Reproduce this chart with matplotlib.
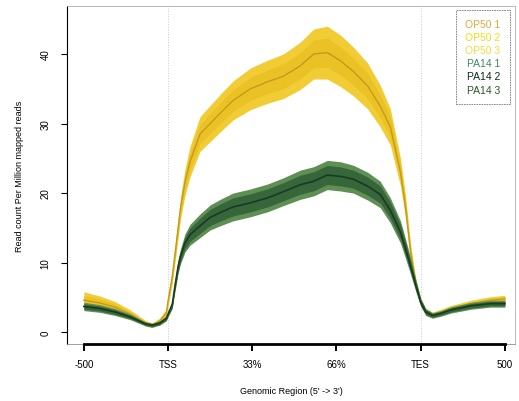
import numpy as np
import matplotlib.pyplot as plt

# positions along the metagene (0 = -500, 1 = TSS, 4 = TES, 5 = +500)
pos = [0.0, 0.19, 0.37, 0.55, 0.73, 0.81, 0.90, 0.98, 1.0, 1.05, 1.08, 1.12,
       1.15, 1.20, 1.26, 1.38, 1.50, 1.62, 1.77, 1.98, 2.18, 2.37, 2.57, 2.73,
       2.89, 3.05, 3.20, 3.37, 3.52, 3.64, 3.76, 3.82, 3.88, 3.94, 4.0, 4.06,
       4.14, 4.24, 4.36, 4.60, 4.83, 5.0]

op50_mean = [4.6, 4.2, 3.6, 2.6, 1.3, 1.0, 1.6, 2.8, 4.5, 8.0, 11.0, 15.0,
             18.0, 21.5, 24.5, 28.5, 30.0, 31.5, 33.3, 35.0, 36.0, 36.8, 38.3, 40.0,
             40.2, 39.0, 37.5, 35.4, 32.5, 29.5, 23.0, 18.0, 11.5, 7.0, 4.3, 3.0,
             2.5, 2.9, 3.4, 4.1, 4.6, 4.8]
op50_err = [1.2, 1.0, 0.8, 0.6, 0.4, 0.35, 0.4, 0.5, 0.7, 1.0, 1.2, 1.4,
            1.6, 1.9, 2.2, 2.5, 2.6, 2.7, 2.8, 3.0, 3.1, 3.2, 3.4, 3.6,
            3.8, 3.7, 3.5, 3.3, 3.0, 2.6, 2.0, 1.6, 1.2, 0.8, 0.5, 0.4,
            0.4, 0.4, 0.45, 0.5, 0.5, 0.5]

pa14_mean = [3.7, 3.4, 2.9, 2.2, 1.2, 1.0, 1.3, 2.0, 2.6, 4.0, 6.5, 9.5,
             11.0, 12.8, 14.0, 15.3, 16.5, 17.2, 18.0, 18.6, 19.3, 20.2, 21.2, 21.7,
             22.6, 22.4, 22.0, 21.0, 19.8, 17.5, 14.4, 12.0, 9.5, 6.8, 4.3, 2.9,
             2.4, 2.7, 3.2, 3.8, 4.1, 4.1]
pa14_err = [0.6, 0.55, 0.5, 0.4, 0.3, 0.3, 0.3, 0.35, 0.4, 0.6, 0.8, 1.0,
            1.1, 1.3, 1.5, 1.7, 1.8, 1.9, 2.0, 2.0, 2.0, 2.0, 2.1, 2.1,
            2.1, 2.1, 2.0, 2.0, 1.9, 1.8, 1.6, 1.4, 1.2, 0.9, 0.6, 0.5,
            0.4, 0.4, 0.45, 0.5, 0.5, 0.5]

samples = ['OP50 1', 'OP50 2', 'OP50 3', 'PA14 1', 'PA14 2', 'PA14 3']
sample_colors = ['#e2a83a', '#f2e010', '#eede36', '#3f8a5c', '#0f2a1c', '#2f5a22']

xticks = [0, 1, 2, 3, 4, 5]
xticklabels = ['-500', 'TSS', '33%', '66%', 'TES', '500']

plt.rcParams['font.family'] = ['Liberation Sans', 'DejaVu Sans']

fig = plt.figure(figsize=(5.19, 4.02), dpi=100)
ax = fig.add_axes([67 / 519, 57 / 402, 448 / 519, 338 / 402])

x = np.array(pos)
om, oe = np.array(op50_mean), np.array(op50_err)
pm, pe = np.array(pa14_mean), np.array(pa14_err)

# OP50 ribbons
ax.fill_between(x, om - oe, om + oe, color='#f2cc34', lw=0, zorder=2)
ax.fill_between(x, om - oe * 0.55, om + oe * 0.55, color='#eac226', lw=0, zorder=2)
ax.plot(x, om, color='#c49a1a', lw=1.0, zorder=3)

# PA14 ribbons
ax.fill_between(x, pm - pe, pm + pe, color='#5f8f55', lw=0, zorder=4)
ax.fill_between(x, pm - pe * 0.65, pm + pe * 0.65, color='#36663a', lw=0, zorder=4)
ax.plot(x, pm, color='#1a3a22', lw=1.2, zorder=5)

# TSS / TES markers
for v in (1, 4):
    ax.axvline(v, color='#c8c8dc', lw=0.7, ls=':', zorder=1)

ax.set_xlim(-0.2, 5.12)
ax.set_ylim(-1.7, 46.9)

for s in ['top', 'right']:
    ax.spines[s].set_color('#b0b0b0')
    ax.spines[s].set_linestyle((0, (2, 1)))
    ax.spines[s].set_linewidth(0.6)
ax.spines['left'].set_linewidth(0.8)
ax.spines['bottom'].set_linewidth(0.6)
ax.spines['bottom'].set_color('#909090')

# heavy R-style x axis
ax.plot([0, 5], [-1.7, -1.7], color='black', lw=2.0, clip_on=False, zorder=6)

ax.set_xticks(xticks)
ax.set_xticklabels(xticklabels, fontsize=7)
ax.tick_params(axis='x', length=5, width=1.4, pad=6)
ax.set_yticks([0, 10, 20, 30, 40])
ax.set_yticklabels(['0', '10', '20', '30', '40'], fontsize=7, rotation=90, va='center')
ax.tick_params(axis='y', length=4, width=0.8, pad=8)

ax.set_xlabel("Genomic Region (5' -> 3')", fontsize=6.5, labelpad=12)
ax.set_ylabel('Read count Per Million mapped reads', fontsize=6.5, labelpad=12)

handles = [plt.Line2D([], [], color=c, lw=0) for c in sample_colors]
leg = ax.legend(handles, samples, loc='upper right', fontsize=7.5, handlelength=0,
                handletextpad=0, labelcolor=sample_colors, frameon=True,
                fancybox=False, borderpad=0.9, labelspacing=0.3,
                markerfirst=False, bbox_to_anchor=(1.0, 1.005))
leg.get_frame().set_edgecolor('#555555')
leg.get_frame().set_linewidth(0.6)
leg.get_frame().set_linestyle((0, (2, 1)))

fig.savefig('out.png', dpi=100)
